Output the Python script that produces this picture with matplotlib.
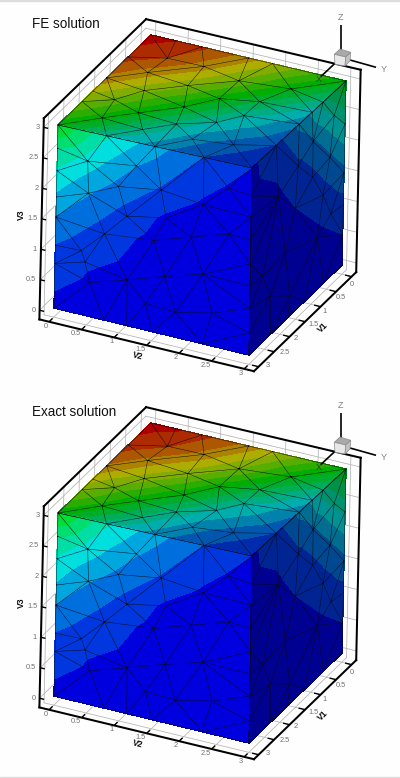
#!/usr/bin/env python3
"""Tecplot style view of the FE and exact solutions on a meshed cube."""

import matplotlib

matplotlib.use("Agg")
import matplotlib.pyplot as plt
from matplotlib.patches import Polygon, Rectangle
from matplotlib.tri import Triangulation
import numpy as np

plt.rcParams["font.family"] = ["Liberation Sans", "DejaVu Sans"]

# Mesh nodes of the three visible faces (axis units)
top_v1 = [0, 3, 0, 3, 0, 0, 0, 0, 0.73, 1.08, 1.49, 2.22, 0.73, 1.43, 1.87, 2.22, 3, 3, 3,
          0.52, 0.51, 0.68, 1.13, 1.03, 1.54, 1.97, 2.54, 2.18, 1.74, 2.25, 2.61, 1.96, 1.29,
          1.12, 0.57, 1.60, 2.57, 2.47]
top_v2 = [0, 0, 3, 3, 0.38, 0.78, 1.5, 1.87, 3, 3, 3, 3, 0, 0, 0, 0, 0.75, 1.5, 2.26,
          0.50, 1.06, 1.68, 1.11, 0.44, 0.63, 0.38, 0.46, 0.85, 1.34, 1.47, 1.12, 1.95, 1.67,
          2.21, 2.43, 2.20, 1.87, 2.46]
top_fe = [1.0, 0.48, 0.48, 0.03, 0.97, 0.92, 0.81, 0.73, 0.31, 0.23, 0.17, 0.09, 0.93, 0.82, 0.73, 0.66,
          0.29, 0.18, 0.09, 0.90, 0.81, 0.64, 0.67, 0.81, 0.67, 0.63, 0.49, 0.48, 0.47, 0.31, 0.31,
          0.27, 0.49, 0.40, 0.48, 0.29, 0.18, 0.12]
top_exact = [1.0, 0.49, 0.48, 0.03, 0.98, 0.93, 0.82, 0.74, 0.32, 0.23, 0.17, 0.09, 0.94, 0.83, 0.74, 0.67,
             0.30, 0.18, 0.09, 0.91, 0.82, 0.65, 0.68, 0.82, 0.68, 0.63, 0.50, 0.48, 0.47, 0.31, 0.32,
             0.27, 0.49, 0.40, 0.48, 0.29, 0.18, 0.12]

left_v2 = [0, 3, 3, 0, 0.75, 1.5, 2.26, 0.47, 1.22, 1.61, 2.64, 0.49, 2.26, 0.95, 1.09, 1.69, 0.75,
           1.51, 2.08, 2.66, 0.40, 0.46, 1.11, 1.69, 2.27, 0.54, 1.40, 1.86, 2.42, 0.77, 1.12, 1.51,
           2.28, 0, 0, 0, 0, 0, 0, 3, 3, 3, 3, 3, 3, 3]
left_v3 = [0, 0, 3, 3, 3, 3, 3, 2.52, 2.62, 2.32, 2.60, 2.0, 2.24, 2.22, 1.77, 1.89, 1.40,
           1.48, 1.67, 1.86, 1.04, 0.87, 0.74, 0.94, 1.12, 0.55, 0.43, 0.40, 0.53, 0, 0, 0,
           0, 2.62, 2.25, 1.82, 1.49, 1.03, 0.73, 2.55, 2.21, 1.84, 1.46, 1.11, 0.75, 0.35]
left_fe = [0.01, 0, 0.03, 0.47, 0.29, 0.18, 0.09, 0.25, 0.156, 0.085, 0.025, 0.16, 0.02, 0.135, 0.065, 0.02, 0.06,
           0.015, 0.01, 0.01, 0.055, 0.04, 0.01, 0.01, 0.005, 0.02, 0.005, 0.005, 0.005, 0, 0, 0,
           0, 0.345, 0.27, 0.205, 0.15, 0.09, 0.065, 0.02, 0.02, 0, 0, 0, 0, 0]
left_exact = [0.01, 0, 0.03, 0.48, 0.29, 0.18, 0.09, 0.25, 0.16, 0.085, 0.025, 0.16, 0.02, 0.14, 0.065, 0.02, 0.06,
              0.015, 0.01, 0.01, 0.055, 0.04, 0.01, 0.01, 0.005, 0.02, 0.005, 0.005, 0.005, 0, 0, 0,
              0, 0.35, 0.27, 0.21, 0.15, 0.09, 0.065, 0.02, 0.02, 0, 0, 0, 0, 0]

right_v1 = [0, 3, 3, 0, 0.73, 1.08, 1.49, 2.22, 1.03, 0.47, 1.50, 0.67, 2.12, 1.57, 0.83, 1.87, 2.60,
            2.33, 1.70, 0.36, 1.02, 0.40, 0, 0, 0, 0, 2.3, 1.75, 1.2, 0.6, 3, 3, 3, 3, 3, 3, 3]
right_v3 = [0, 0, 3, 3, 3, 3, 3, 3, 2.50, 1.98, 2.33, 1.46, 2.13, 1.68, 0.85, 1.10, 1.07,
            0.63, 0.32, 2.61, 1.92, 1.03, 2.3, 1.5, 0.98, 0.5, 0, 0, 0, 0, 2.55, 2.21, 1.84,
            1.46, 1.11, 0.75, 0.35]
right_fe = [0.01, 0, 0.02, 0.47, 0.31, 0.23, 0.17, 0.06, 0.14, 0.14, 0.075, 0.065, 0.02, 0.03, 0.015, 0.005, 0,
            0, 0, 0.28, 0.075, 0.05, 0.28, 0.13, 0.07, 0.031, 0, 0, 0, 0, 0.015, 0.01, 0.005,
            0, 0, 0, 0]
right_exact = [0.01, 0, 0.02, 0.47, 0.32, 0.23, 0.17, 0.06, 0.14, 0.14, 0.075, 0.065, 0.02, 0.03, 0.015, 0.005, 0,
               0, 0, 0.29, 0.075, 0.05, 0.29, 0.13, 0.07, 0.031, 0, 0, 0, 0, 0.015, 0.01, 0.005,
               0, 0, 0, 0]

tick_values = [0, 0.5, 1, 1.5, 2, 2.5, 3]
tick_labels = ["0", "0.5", "1", "1.5", "2", "2.5", "3"]
panel_titles = ["FE solution", "Exact solution"]

# Screen position (px) of the cube corners, indexed by (v1/3, v2/3, v3/3)
CUBE_PX = np.array([
    [[(147, 216), (151, 35)], [(342, 265), (346, 81)]],
    [[(54, 308), (58, 125)], [(249, 355), (252, 168)]],
], dtype=float)
PAD = 0.15
LO, HI = -PAD, 3 + PAD

# Tecplot small rainbow, 16 flat bands
RAINBOW = np.array([[0, 0, 1], [0, 1, 1], [0, 1, 0], [1, 1, 0], [1, 0, 0]], dtype=float)
BAND_WIDTH = 0.0625
BAND_CENTRES = np.arange(0, 17) * BAND_WIDTH
BAND_LEVELS = np.arange(-0.5, 17) * BAND_WIDTH
SHADE_TOP, SHADE_LEFT, SHADE_RIGHT = 0.68, 0.87, 0.57


def to_px(v1, v2, v3):
    """Trilinear map from axis units to screen pixels."""
    a, b, c = np.asarray(v1) / 3.0, np.asarray(v2) / 3.0, np.asarray(v3) / 3.0
    out = 0
    for i, wa in enumerate((1 - a, a)):
        for j, wb in enumerate((1 - b, b)):
            for k, wc in enumerate((1 - c, c)):
                out = out + (wa * wb * wc)[..., None] * CUBE_PX[i, j, k]
    return out[..., 0], out[..., 1]


def band_colors(shade):
    pos = BAND_CENTRES * 4
    rgb = np.array([np.interp(pos, range(5), RAINBOW[:, n]) for n in range(3)]).T
    return [tuple(c * shade) for c in rgb]


def draw_face(ax, v1, v2, v3, values, plane_a, plane_b, shade):
    """Flat banded contours plus mesh lines for one cube face."""
    sx, sy = to_px(np.array(v1, dtype=float), np.array(v2, dtype=float), np.array(v3, dtype=float))
    tri = Triangulation(sx, sy, Triangulation(plane_a, plane_b).triangles)
    cs = ax.tricontourf(tri, values, levels=BAND_LEVELS, colors=band_colors(shade), zorder=2)
    cs.set_edgecolor("face")
    cs.set_linewidth(0.3)
    ax.triplot(tri, color="#0a0a14", lw=0.34, zorder=3)


def seg(ax, p, q, **kw):
    x0, y0 = to_px(*map(float, p))
    x1, y1 = to_px(*map(float, q))
    ax.plot([x0, x1], [y0, y1], **kw)


def draw_box(ax):
    grid = dict(color="#b4b4b4", lw=0.55, zorder=1)
    for t in tick_values:
        seg(ax, (LO, t, LO), (LO, t, HI), **grid)  # back right wall
        seg(ax, (LO, LO, t), (LO, HI, t), **grid)
        seg(ax, (t, LO, LO), (t, LO, HI), **grid)  # back left wall
        seg(ax, (LO, LO, t), (HI, LO, t), **grid)
        seg(ax, (t, LO, LO), (t, HI, LO), **grid)  # floor
        seg(ax, (LO, t, LO), (HI, t, LO), **grid)

    heavy = dict(color="black", lw=1.45, zorder=5, solid_capstyle="projecting")
    seg(ax, (HI, LO, LO), (HI, LO, HI), **heavy)
    seg(ax, (HI, LO, LO), (HI, HI, LO), **heavy)
    seg(ax, (HI, HI, LO), (LO, HI, LO), **heavy)
    seg(ax, (LO, HI, LO), (LO, HI, HI), **heavy)
    seg(ax, (LO, LO, HI), (HI, LO, HI), **heavy)
    seg(ax, (LO, LO, HI), (LO, HI, HI), **heavy)

    tick = dict(color="black", lw=1.0, zorder=6, solid_capstyle="butt")
    label = dict(fontsize=5.3, color="#707070", va="center", zorder=6)
    for t, text in zip(tick_values, tick_labels):
        seg(ax, (HI, LO, t), (HI, LO + 0.07, t), **tick)
        seg(ax, (HI, t, LO), (HI - 0.11, t, LO), **tick)
        seg(ax, (t, HI, LO), (t, HI - 0.1, LO), **tick)

        x, y = to_px(float(HI), float(LO), float(t))
        ax.text(x - 4, y, text, ha="right", **label)
        x, y = to_px(float(HI), float(t), float(LO))
        ax.text(x - 1, y + 4.3, text, ha="right", **label)
        x, y = to_px(float(t), float(HI), float(LO))
        ax.text(x - 1.5 + 3 * t, y + 7.4 - 2.8 * t, text, ha="left", **label)

    title = dict(fontsize=6.2, fontweight="bold", color="#111111", ha="center", va="center", zorder=6)
    x, y = to_px(float(HI), float(LO), 1.5)
    ax.text(x - 20, y - 4, "V3", rotation=90, **title)
    x, y = to_px(float(HI), 1.5, float(LO))
    ax.text(x - 9, y + 11, "V2", rotation=-15, **title)
    x, y = to_px(1.5, float(HI), float(LO))
    ax.text(x + 18, y + 5.5, "V1", rotation=45, **title)


def draw_triad(ax):
    arm = dict(color="black", lw=1.2, zorder=7, solid_capstyle="butt")
    ax.plot([340.7, 340.7], [25, 52], **arm)
    ax.plot([350, 376], [60, 67.3], **arm)
    ax.plot([335, 320.7], [63.3, 76.7], **arm)
    edge = dict(edgecolor="#8a8a8a", linewidth=0.5, zorder=8)
    ax.add_patch(Polygon([(334.3, 54.3), (340, 49), (350.7, 52.3), (345.7, 57)], facecolor="#a9a9a9", **edge))
    ax.add_patch(Polygon([(334.3, 54.3), (345.7, 57), (345, 66), (335, 64.3)], facecolor="#e8e8e8", **edge))
    ax.add_patch(Polygon([(345.7, 57), (350.7, 52.3), (350, 61), (345, 66)], facecolor="#c2c2c2", **edge))
    letter = dict(fontsize=6.5, color="#808080", ha="center", va="center", zorder=8)
    ax.text(340.3, 17.7, "Z", **letter)
    ax.text(383.3, 69.3, "Y", **letter)
    ax.text(318.3, 79.5, "X", fontsize=6.5, color="#30402a", ha="center", va="center", zorder=8)


def draw_panel(ax, title, top_vals, left_vals, right_vals):
    ax.set_xlim(0, 400)
    ax.set_ylim(388, 0)
    ax.set_autoscale_on(False)
    ax.axis("off")
    draw_box(ax)
    draw_face(ax, top_v1, top_v2, [3.0] * len(top_v1), top_vals, top_v1, top_v2, SHADE_TOP)
    draw_face(ax, [3.0] * len(left_v2), left_v2, left_v3, left_vals, left_v2, left_v3, SHADE_LEFT)
    draw_face(ax, right_v1, [3.0] * len(right_v1), right_v3, right_vals, right_v1, right_v3, SHADE_RIGHT)
    draw_triad(ax)
    ax.text(31.7, 24, title, fontsize=9.75, color="#111111", ha="left", va="center", zorder=8)


fig = plt.figure(figsize=(4.0, 7.78), dpi=100, facecolor="#fefefe")
ax_fe = fig.add_axes([0, 390 / 778, 1, 388 / 778])
ax_exact = fig.add_axes([0, 2 / 778, 1, 388 / 778])
draw_panel(ax_fe, panel_titles[0], top_fe, left_fe, right_fe)
draw_panel(ax_exact, panel_titles[1], top_exact, left_exact, right_exact)

# thin grey page edges
fig.add_artist(Rectangle((0, 777 / 778), 1, 1 / 778, transform=fig.transFigure, color="#dcdcdc"))
fig.add_artist(Rectangle((0, 0), 1, 1 / 778, transform=fig.transFigure, color="#dcdcdc"))

fig.savefig("out.png", dpi=100, facecolor=fig.get_facecolor())
